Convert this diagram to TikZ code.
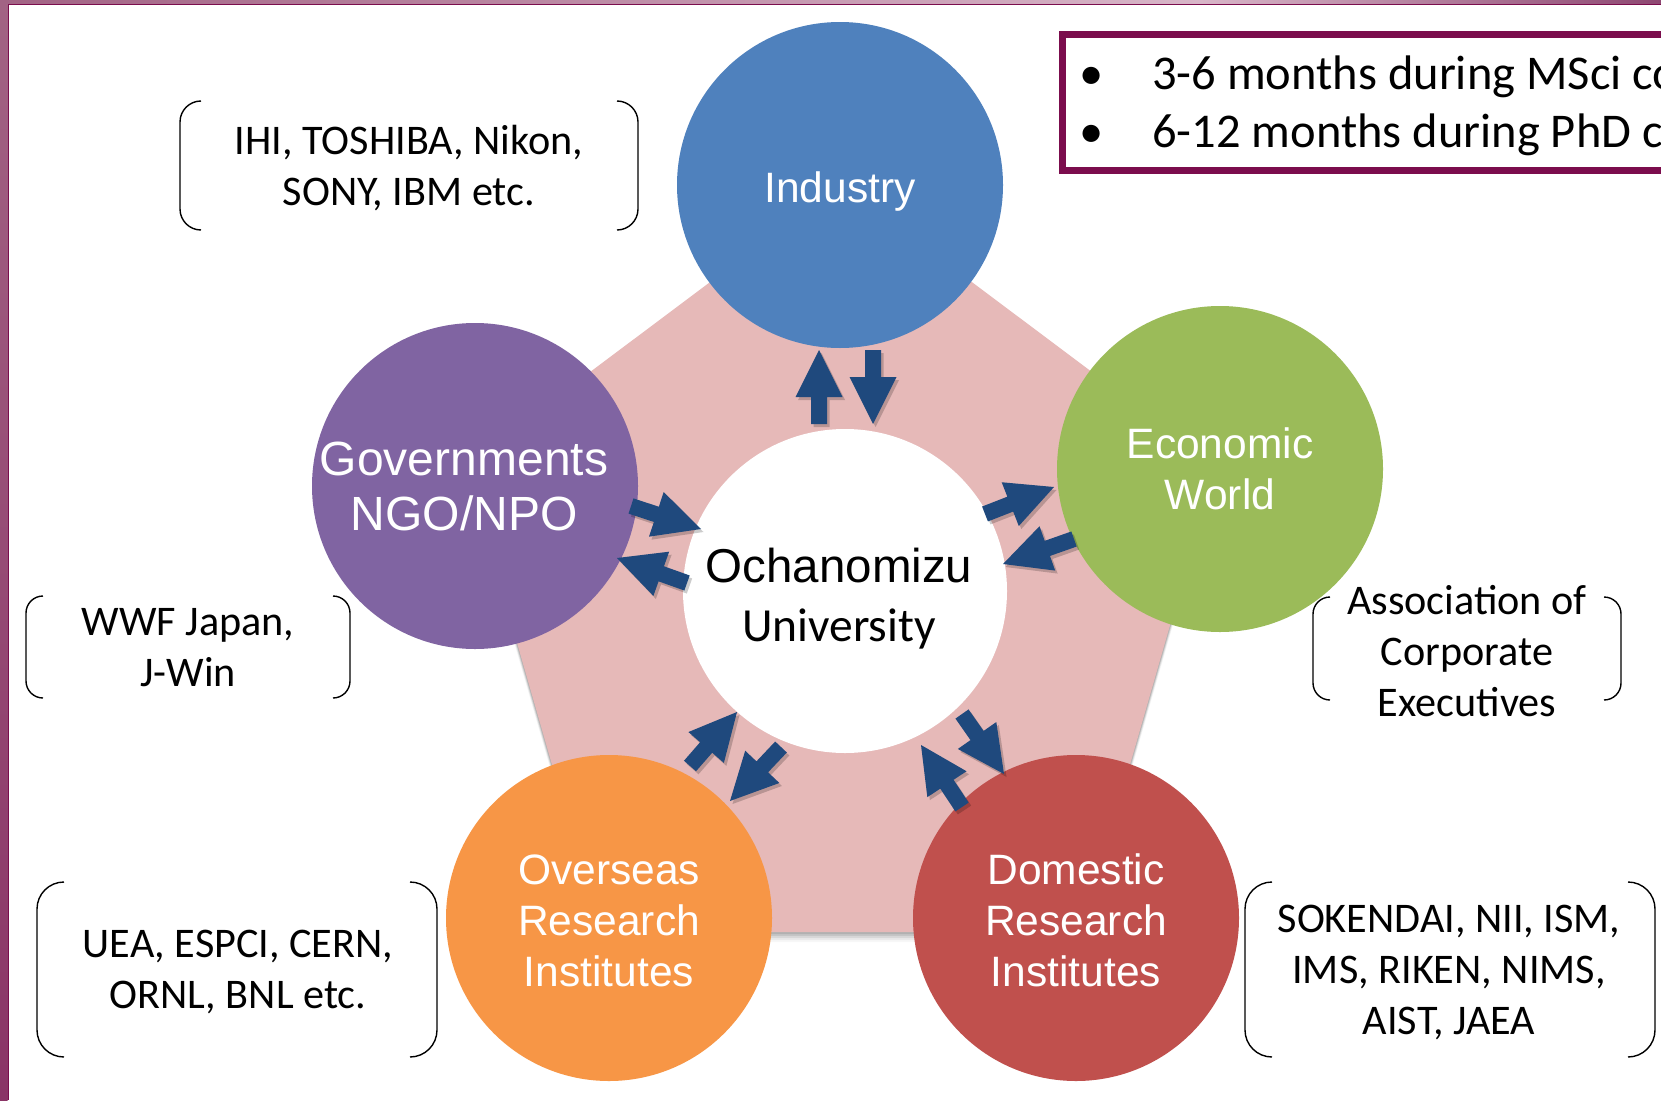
\documentclass[tikz,border=0pt]{standalone}
\usepackage{fontspec}
\setmainfont{Carlito}
\newfontfamily\arialf{Liberation Sans}
\usetikzlibrary{calc}
\definecolor{indcol}{HTML}{4F81BD}
\definecolor{ecocol}{HTML}{9BBB59}
\definecolor{govcol}{HTML}{8064A2}
\definecolor{ovscol}{HTML}{F79646}
\definecolor{domcol}{HTML}{C0504D}
\definecolor{pentcol}{HTML}{E6B9B8}
\definecolor{arrcol}{HTML}{1F497D}
\definecolor{framecol}{HTML}{7B0D4D}
\definecolor{bandA}{HTML}{A26384}
\definecolor{bandB}{HTML}{8A3466}
\definecolor{bandC}{HTML}{D8B6C8}
\definecolor{bandD}{HTML}{8E4872}

\newcommand\blkarrow[2]{%
  \coordinate (bh) at ($(#2)!47pt!(#1)$);
  \fill[arrshadow] ($(#1)!8pt!90:(#2)$) -- ($(bh)!8pt!90:(#2)$) -- ($(bh)!23.5pt!90:(#2)$) -- (#2) -- ($(bh)!23.5pt!-90:(#2)$) -- ($(bh)!8pt!-90:(#2)$) -- ($(#1)!8pt!-90:(#2)$) -- cycle;
  \fill[arrbody] ($(#1)!8pt!90:(#2)$) -- ($(bh)!8pt!90:(#2)$) -- ($(bh)!23.5pt!90:(#2)$) -- (#2) -- ($(bh)!23.5pt!-90:(#2)$) -- ($(bh)!8pt!-90:(#2)$) -- ($(#1)!8pt!-90:(#2)$) -- cycle;
}
\newcommand\dblbrk[5]{%
  \draw[brk, rounded corners=#5pt] (#1+#5,#2) -- (#1,#2) -- (#1,#4) -- (#1+#5,#4);
  \draw[brk, rounded corners=#5pt] (#3-#5,#2) -- (#3,#2) -- (#3,#4) -- (#3-#5,#4);
}

\begin{document}
\begin{tikzpicture}[x=1pt,y=-1pt,
  bub/.style={circle, minimum size=326pt, inner sep=0pt},
  clab/.style={text=white, align=center, font={\arialf\fontsize{42.5pt}{51pt}\selectfont}},
  btxt/.style={align=center, inner sep=0pt, font={\fontsize{42.2pt}{51pt}\selectfont}},
  brk/.style={draw=black, line width=1.4pt},
  arrbody/.style={fill=arrcol},
  arrshadow/.style={fill=black, opacity=0.2, transform canvas={shift={(2.5pt,-3pt)}}}
]
\useasboundingbox (0,0) rectangle (1661,1100);
\fill[white] (0,0) rectangle (1661,1100);

% slide border
\shade[left color=bandA, right color=bandC] (0,0) rectangle (1200,3.6);
\shade[left color=bandC, right color=bandD] (1200,0) rectangle (1661,3.6);
\shade[top color=bandA, bottom color=bandB] (0,0) rectangle (7.6,1100);
\draw[framecol, line width=1.8pt] (8.4,1100) -- (8.4,4.4) -- (1661,4.4);

% pentagon with soft shadow
\foreach \s/\o in {2/0.10,4/0.09,6/0.07,8/0.05,10/0.03}{
  \fill[black, opacity=\o, shift={(0,\s)}] (841,184) -- (1216,465) -- (1082,932) -- (600,932) -- (466,465) -- cycle;
}
\fill[pentcol] (841,184) -- (1216,465) -- (1082,932) -- (600,932) -- (466,465) -- cycle;

% circles
\node[bub, fill=indcol, clab] (ind) at (840,185) {\rule{0pt}{44pt}Industry};
\node[bub, fill=ecocol, clab] (eco) at (1220,469) {Economic\\World};
\node[bub, fill=govcol, clab, font={\arialf\fontsize{48pt}{55pt}\selectfont}] (gov) at (475,486) {Governments\kern22pt\\NGO/NPO\kern22pt};
\node[bub, fill=ovscol, clab] (ovs) at (609,918) {\rule{0pt}{35pt}Overseas\\Research\\Institutes};
\node[bub, fill=domcol, clab] (dom) at (1076,918) {\rule{0pt}{35pt}Domestic\\Research\\Institutes};
\node[bub, minimum size=324pt, fill=white, align=center, font={\fontsize{47.5pt}{58.5pt}\selectfont}] (cen) at (845,591) {{\arialf\rule{0pt}{50pt}Ochanomizu}\kern12pt\\University\kern12pt};

% arrow end points
\coordinate (a1t) at (819,424); \coordinate (a1h) at (819,350);
\coordinate (a2t) at (873,350); \coordinate (a2h) at (873,424);
\coordinate (a3t) at (631,506); \coordinate (a3h) at (701,529);
\coordinate (a4t) at (687,583); \coordinate (a4h) at (617,558);
\coordinate (a5t) at (985,514); \coordinate (a5h) at (1054,487);
\coordinate (a6t) at (1074,539); \coordinate (a6h) at (1003,564);
\coordinate (a7t) at (690,766); \coordinate (a7h) at (737,712);
\coordinate (a8t) at (781,747); \coordinate (a8h) at (730,801);
\coordinate (a9t) at (962,714); \coordinate (a9h) at (1004,774);
\coordinate (a10t) at (962,807); \coordinate (a10h) at (921,745);
\blkarrow{a1t}{a1h}
\blkarrow{a2t}{a2h}
\blkarrow{a3t}{a3h}
\blkarrow{a4t}{a4h}
\blkarrow{a5t}{a5h}
\blkarrow{a6t}{a6h}
\blkarrow{a7t}{a7h}
\blkarrow{a8t}{a8h}
\blkarrow{a9t}{a9h}
\blkarrow{a10t}{a10h}

% bracketed partner lists
\node[btxt] (ihi) at (409,168) {IHI, TOSHIBA, Nikon,\\SONY, IBM etc.};
\dblbrk{180}{101}{638}{230}{21}
\node[btxt] (wwf) at (188,648) {WWF Japan,\\J-Win};
\dblbrk{26}{596}{350}{698}{17}
\node[btxt] (ace) at (1467,651) {Association of\\Corporate\\Executives};
\dblbrk{1313}{597}{1621}{700}{17}
\node[btxt] (uea) at (238,972) {UEA, ESPCI, CERN,\\ORNL, BNL etc.};
\dblbrk{37}{882}{437}{1057}{27}
\node[btxt] (sok) at (1449,972) {SOKENDAI, NII, ISM,\\IMS, RIKEN, NIMS,\\AIST, JAEA};
\dblbrk{1245}{882}{1655}{1057}{27}

% programme box
\begin{scope}
\clip (0,0) rectangle (1661,1100);
\draw[framecol, line width=7pt] (1062,34.5) rectangle (1720,170.5);
\node[anchor=west, align=left, inner sep=0pt, font={\fontsize{48.5pt}{58pt}\selectfont}] (prog) at (1079,106) {\makebox[73pt][l]{\textbullet}3-6 months during MSci course\\\makebox[73pt][l]{\textbullet}6-12 months during PhD course};
\end{scope}
\end{tikzpicture}
\end{document}
